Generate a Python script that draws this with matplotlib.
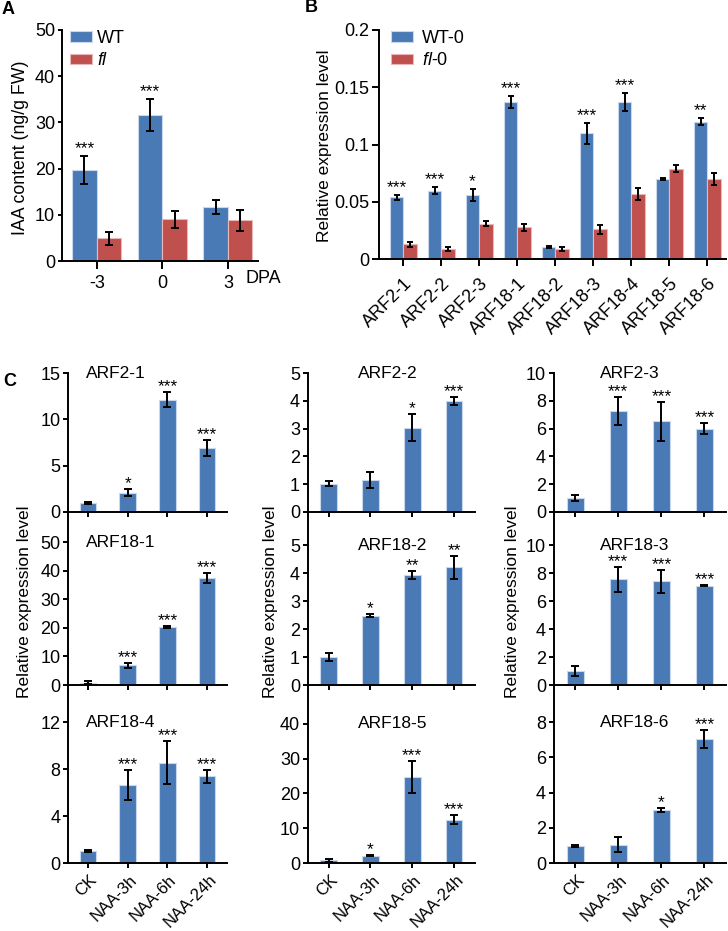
import matplotlib
matplotlib.use('Agg')
import matplotlib.pyplot as plt
import numpy as np
from matplotlib.transforms import ScaledTranslation

plt.rcParams['font.family'] = ['Liberation Sans', 'DejaVu Sans']
plt.rcParams['mathtext.fontset'] = 'custom'
plt.rcParams['mathtext.rm'] = 'Liberation Sans'
plt.rcParams['mathtext.it'] = 'Liberation Sans:italic'

# ---------------- data ----------------
# Panel A
dpa_labels = ['-3', '0', '3']
iaa_wt = [19.7, 31.6, 11.7]
iaa_wt_err = [3.0, 3.4, 1.6]
iaa_fl = [4.9, 9.0, 8.8]
iaa_fl_err = [1.4, 1.8, 2.2]
iaa_sig = ['***', '***', '']

# Panel B
b_genes = ['ARF2-1', 'ARF2-2', 'ARF2-3', 'ARF18-1', 'ARF18-2',
           'ARF18-3', 'ARF18-4', 'ARF18-5', 'ARF18-6']
b_wt = [0.054, 0.060, 0.056, 0.137, 0.011, 0.110, 0.137, 0.070, 0.120]
b_wt_err = [0.002, 0.003, 0.005, 0.005, 0.001, 0.009, 0.008, 0.001, 0.003]
b_fl = [0.013, 0.009, 0.031, 0.028, 0.009, 0.026, 0.057, 0.079, 0.070]
b_fl_err = [0.002, 0.002, 0.002, 0.003, 0.002, 0.004, 0.005, 0.003, 0.005]
b_sig = ['***', '***', '*', '***', '', '***', '***', '', '**']

# Panel C
treatments = ['CK', 'NAA-3h', 'NAA-6h', 'NAA-24h']
arf2_1 = [0.95, 2.1, 12.1, 6.9]
arf2_1_err = [0.1, 0.4, 0.8, 0.85]
arf2_1_sig = ['', '*', '***', '***']
arf2_2 = [1.02, 1.15, 3.03, 3.98]
arf2_2_err = [0.1, 0.28, 0.48, 0.14]
arf2_2_sig = ['', '', '*', '***']
arf2_3 = [1.0, 7.25, 6.52, 5.98]
arf2_3_err = [0.22, 1.0, 1.4, 0.4]
arf2_3_sig = ['', '***', '***', '***']
arf18_1 = [0.8, 6.9, 20.4, 37.4]
arf18_1_err = [0.5, 0.9, 0.3, 1.9]
arf18_1_sig = ['', '***', '***', '***']
arf18_2 = [1.0, 2.48, 3.93, 4.2]
arf18_2_err = [0.14, 0.04, 0.14, 0.4]
arf18_2_sig = ['', '*', '**', '**']
arf18_3 = [1.0, 7.56, 7.4, 7.08]
arf18_3_err = [0.35, 0.88, 0.83, 0.03]
arf18_3_sig = ['', '***', '***', '***']
arf18_4 = [1.04, 6.65, 8.55, 7.4]
arf18_4_err = [0.1, 1.3, 1.85, 0.55]
arf18_4_sig = ['', '***', '***', '***']
arf18_5 = [0.75, 2.05, 24.7, 12.5]
arf18_5_err = [0.5, 0.15, 4.7, 1.3]
arf18_5_sig = ['', '*', '***', '***']
arf18_6 = [0.97, 1.03, 3.0, 7.02]
arf18_6_err = [0.05, 0.42, 0.1, 0.52]
arf18_6_sig = ['', '', '*', '***']

c_titles = ['ARF2-1', 'ARF2-2', 'ARF2-3', 'ARF18-1', 'ARF18-2',
            'ARF18-3', 'ARF18-4', 'ARF18-5', 'ARF18-6']
c_yticks = [[0, 5, 10, 15], [0, 1, 2, 3, 4, 5], [0, 2, 4, 6, 8, 10],
            [0, 10, 20, 30, 40, 50], [0, 1, 2, 3, 4, 5], [0, 2, 4, 6, 8, 10],
            [0, 4, 8, 12], [0, 10, 20, 30, 40], [0, 2, 4, 6, 8]]

# ---------------- style / layout ----------------
W, H, DPI = 728, 931, 100
BLUE = '#4a7ab5'
BLUE_EDGE = '#c9d8ec'
RED = '#c0504d'
RED_EDGE = '#e6b9b8'
LW = 1.4
TICK_FS = 13
LAB_FS = 12.5
STAR_FS = 12.5

fig = plt.figure(figsize=(W / DPI, H / DPI), dpi=DPI)


def rect(l, t, r, b):
    return [l / W, 1 - b / H, (r - l) / W, (b - t) / H]


def style_axes(ax, xlen, ylen):
    for s in ['top', 'right']:
        ax.spines[s].set_visible(False)
    for s in ['left', 'bottom']:
        ax.spines[s].set_linewidth(LW)
    ax.tick_params(axis='x', direction='out', length=xlen, width=LW,
                   labelsize=TICK_FS, pad=3)
    ax.tick_params(axis='y', direction='out', length=ylen, width=LW,
                   labelsize=TICK_FS, pad=2)


def stars(ax, xs, tops, sigs, fs=STAR_FS, off=0):
    for x, t, s in zip(xs, tops, sigs):
        if s:
            ax.annotate(s, xy=(x, t), xytext=(0, off), textcoords='offset points',
                        ha='center', va='bottom', fontsize=fs)


eb_kw = dict(fmt='none', ecolor='black', elinewidth=LW, capsize=3, capthick=LW)

# ---------------- Panel A ----------------
axA = fig.add_axes(rect(62, 30, 258, 261))
xa = np.arange(len(dpa_labels))
wa = 0.375
axA.bar(xa - wa / 2, iaa_wt, wa, color=BLUE, edgecolor=BLUE_EDGE, linewidth=0.8, label='WT')
axA.bar(xa + wa / 2, iaa_fl, wa, color=RED, edgecolor=RED_EDGE, linewidth=0.8, label='fl')
axA.errorbar(xa - wa / 2, iaa_wt, yerr=iaa_wt_err, **eb_kw)
axA.errorbar(xa + wa / 2, iaa_fl, yerr=iaa_fl_err, **eb_kw)
stars(axA, xa - wa / 2, np.array(iaa_wt) + np.array(iaa_wt_err), iaa_sig)
axA.set_xlim(-0.53, 2.46)
axA.set_ylim(0, 50)
axA.set_yticks([0, 10, 20, 30, 40, 50])
axA.set_xticks(xa)
axA.set_xticklabels(dpa_labels)
style_axes(axA, 6, 3)
axA.tick_params(axis='x', pad=4)
legA = axA.legend(loc='upper left', bbox_to_anchor=(0.04, 1.0), frameon=False,
                  fontsize=13, handlelength=1.2, handleheight=0.5,
                  handletextpad=0.3, labelspacing=0.3, borderpad=0, borderaxespad=0)
legA.get_texts()[1].set_style('italic')
fig.text(245 / W, 1 - 278 / H, 'DPA', fontsize=TICK_FS, ha='left', va='center')
fig.text(21 / W, 1 - 148 / H, 'IAA content (ng/g FW)', rotation=90,
         fontsize=12.8, ha='center', va='center')
fig.text(2 / W, 1 - 10 / H, 'A', fontsize=13, fontweight='bold', ha='left', va='center')

# ---------------- Panel B ----------------
axB = fig.add_axes(rect(379, 30, 726, 259.3))
xb = np.arange(len(b_genes))
wb = 0.355
axB.bar(xb - wb / 2, b_wt, wb, color=BLUE, edgecolor=BLUE_EDGE, linewidth=0.8, label='WT-0')
axB.bar(xb + wb / 2, b_fl, wb, color=RED, edgecolor=RED_EDGE, linewidth=0.8,
        label=r'$\mathit{fl}$-0')
axB.errorbar(xb - wb / 2, b_wt, yerr=b_wt_err, **dict(eb_kw, capsize=2.5))
axB.errorbar(xb + wb / 2, b_fl, yerr=b_fl_err, **dict(eb_kw, capsize=2.5))
stars(axB, xb - wb / 2, np.array(b_wt) + np.array(b_wt_err), b_sig)
axB.set_xlim(-0.64, 8.49)
axB.set_ylim(0, 0.2)
axB.set_yticks([0, 0.05, 0.1, 0.15, 0.2])
axB.set_yticklabels(['0', '0.05', '0.1', '0.15', '0.2'])
axB.set_xticks(xb)
axB.set_xticklabels(b_genes, rotation=45, ha='right')
style_axes(axB, 5, 5)
axB.tick_params(axis='x', pad=6)
for lab in axB.get_xticklabels():
    lab.set_transform(lab.get_transform() + ScaledTranslation(0.12, 0, fig.dpi_scale_trans))
axB.legend(loc='upper left', bbox_to_anchor=(0.035, 1.0), frameon=False,
           fontsize=13, handlelength=1.2, handleheight=0.5,
           handletextpad=0.5, labelspacing=0.3, borderpad=0, borderaxespad=0)
fig.text(324 / W, 1 - 146 / H, 'Relative expression level', rotation=90,
         fontsize=LAB_FS, ha='center', va='center')
fig.text(305 / W, 1 - 8 / H, 'B', fontsize=13, fontweight='bold', ha='left', va='center')

# ---------------- Panel C ----------------
c_means = [arf2_1, arf2_2, arf2_3, arf18_1, arf18_2, arf18_3, arf18_4, arf18_5, arf18_6]
c_errs = [arf2_1_err, arf2_2_err, arf2_3_err, arf18_1_err, arf18_2_err, arf18_3_err,
          arf18_4_err, arf18_5_err, arf18_6_err]
c_sigs = [arf2_1_sig, arf2_2_sig, arf2_3_sig, arf18_1_sig, arf18_2_sig, arf18_3_sig,
          arf18_4_sig, arf18_5_sig, arf18_6_sig]

col_px = [(68, 227), (307.7, 475), (553.7, 726)]
row_px = [(373, 512), (512, 685), (685, 863)]
ytop = [15, 5, 10, 60.5, 6.18, 12.36, 15.15, 51.2, 10.1]
title_x = [0.113, 0.30, 0.27]
bar_w = [0.42, 0.40, 0.40]
xc = np.arange(len(treatments))

for i in range(9):
    r, c = divmod(i, 3)
    ax = fig.add_axes(rect(col_px[c][0], row_px[r][0], col_px[c][1], row_px[r][1]))
    ax.set_facecolor('none')
    ax.bar(xc, c_means[i], bar_w[c], color=BLUE, edgecolor=BLUE_EDGE, linewidth=0.8)
    ax.errorbar(xc, c_means[i], yerr=c_errs[i], **eb_kw)
    stars(ax, xc, np.array(c_means[i]) + np.array(c_errs[i]), c_sigs[i], off=-1.5)
    ax.set_xlim(-0.5, 3.5)
    ax.set_ylim(0, ytop[i])
    ax.set_yticks(c_yticks[i])
    ax.set_xticks(xc)
    style_axes(ax, 3.5, 3.5)
    if r == 2:
        ax.set_xticklabels(treatments, rotation=45, ha='right', fontsize=12)
        ax.tick_params(axis='x', pad=3)
        for lab in ax.get_xticklabels():
            lab.set_transform(lab.get_transform()
                              + ScaledTranslation(0.12, 0, fig.dpi_scale_trans))
    else:
        ax.set_xticklabels([])
    ax.text(title_x[c], c_yticks[i][-1], c_titles[i], transform=ax.get_yaxis_transform(),
            fontsize=12.5, ha='left', va='center')

for xcen in [25, 270, 512]:
    fig.text(xcen / W, 1 - 602 / H, 'Relative expression level', rotation=90,
             fontsize=LAB_FS, ha='center', va='center')
fig.text(3 / W, 1 - 381 / H, 'C', fontsize=13, fontweight='bold', ha='left', va='center')

fig.savefig('out.png', dpi=DPI)
